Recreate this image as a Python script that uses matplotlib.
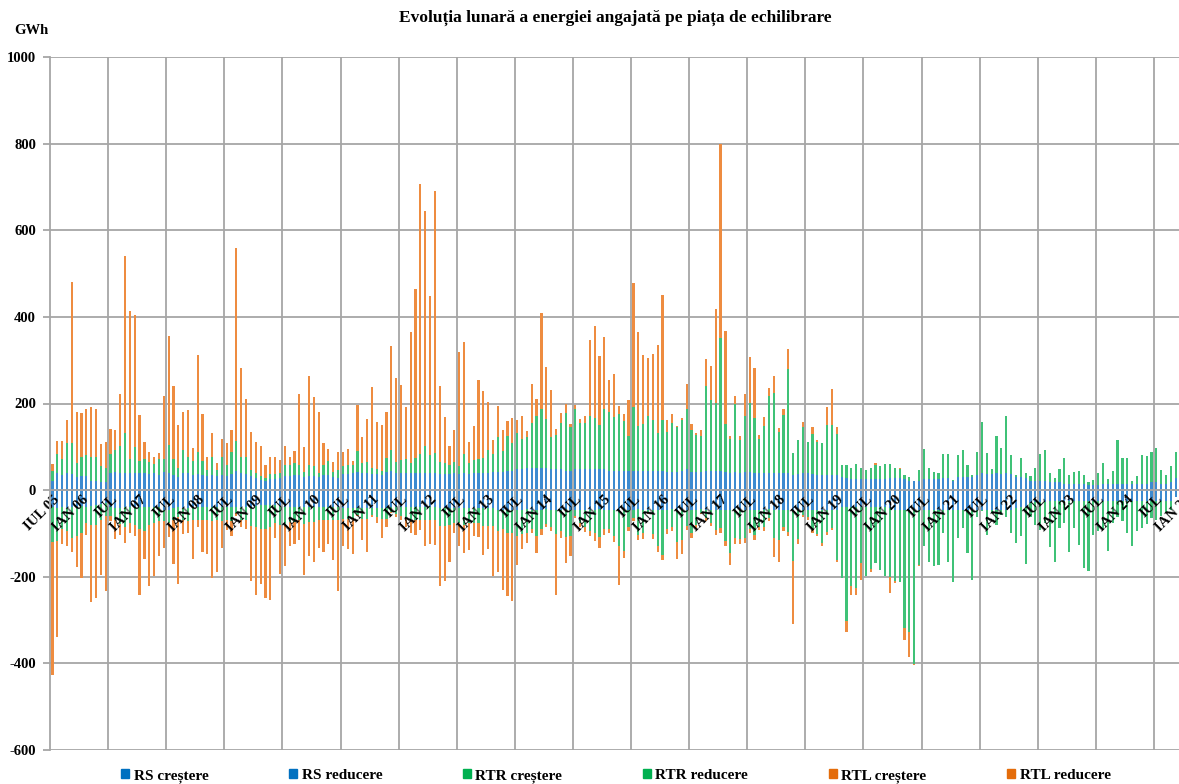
import numpy as np
import matplotlib.pyplot as plt
from matplotlib.patches import Patch

plt.rcParams['font.family'] = ['Liberation Serif', 'DejaVu Serif']
plt.rcParams['font.weight'] = 'bold'
plt.rcParams['axes.unicode_minus'] = False

# monthly values, GWh, Jul 2005 .. Nov 2024 (one row = Jul..Jun)
rs_up = [22, 40, 35, 39, 37, 30, 32, 32, 22, 21, 19, 18,
         39, 43, 40, 39, 39, 39, 39, 39, 37, 39, 35, 43,
         39, 35, 30, 39, 39, 35, 38, 35, 33, 36, 33, 35,
         33, 38, 45, 40, 38, 32, 28, 24, 22, 26, 26, 28,
         33, 33, 34, 34, 30, 33, 33, 30, 34, 36, 30, 28,
         38, 38, 40, 43, 40, 40, 38, 38, 36, 43, 45, 40,
         40, 40, 40, 40, 40, 40, 40, 40, 38, 38, 38, 40,
         38, 40, 38, 40, 39, 40, 40, 42, 42, 42, 45, 45,
         48, 48, 50, 50, 50, 52, 50, 48, 48, 48, 45, 45,
         48, 48, 48, 48, 48, 48, 48, 45, 45, 45, 45, 45,
         45, 45, 45, 45, 45, 45, 45, 42, 42, 42, 45, 48,
         42, 42, 42, 45, 45, 45, 45, 42, 40, 42, 40, 42,
         42, 40, 40, 40, 40, 40, 40, 40, 40, 35, 38, 40,
         40, 38, 36, 36, 36, 36, 36, 30, 28, 26, 26, 26,
         26, 26, 26, 26, 26, 28, 28, 28, 26, 22, 20, 20,
         25, 25, 25, 25, 28, 28, 20, 30, 30, 30, 30, 35,
         40, 38, 38, 40, 38, 40, 38, 30, 30, 28, 22, 22,
         22, 22, 18, 18, 18, 15, 15, 15, 15, 15, 12, 12,
         12, 15, 15, 15, 15, 15, 15, 14, 14, 14, 14, 18,
         18, 15, 15, 18, 28]

rs_dn = [-40, -42, -40, -42, -40, -38, -36, -38, -36, -35, -32, -30,
         -40, -42, -42, -40, -40, -40, -38, -38, -38, -40, -40, -45,
         -45, -42, -40, -42, -42, -40, -40, -40, -38, -40, -38, -40,
         -40, -40, -38, -40, -40, -38, -36, -35, -35, -35, -35, -36,
         -38, -38, -38, -38, -38, -38, -38, -38, -38, -40, -40, -40,
         -42, -42, -42, -42, -42, -42, -42, -42, -42, -42, -40, -40,
         -40, -40, -40, -40, -40, -40, -40, -40, -42, -42, -42, -42,
         -42, -42, -42, -42, -42, -42, -42, -42, -45, -45, -45, -45,
         -45, -46, -44, -45, -47, -45, -44, -45, -46, -45, -44, -45,
         -45, -45, -46, -45, -45, -44, -45, -45, -46, -45, -45, -45,
         -45, -44, -45, -45, -46, -45, -45, -45, -44, -45, -45, -46,
         -45, -45, -44, -45, -45, -46, -45, -45, -45, -44, -45, -45,
         -45, -46, -45, -45, -44, -45, -45, -45, -46, -45, -45, -45,
         -45, -45, -45, -45, -45, -45, -45, -40, -40, -40, -40, -40,
         -40, -40, -40, -40, -40, -42, -45, -45, -45, -45, -45, -45,
         -45, -45, -45, -45, -45, -45, -45, -45, -45, -45, -45, -45,
         -45, -45, -45, -45, -45, -45, -45, -42, -40, -38, -30, -28,
         -28, -28, -25, -25, -25, -25, -25, -25, -25, -25, -25, -25,
         -25, -25, -25, -25, -25, -25, -25, -25, -25, -25, -25, -25,
         -25, -25, -25, -25, -15]

rtr_up = [23, 44, 37, 70, 72, 32, 44, 48, 55, 56, 36, 32,
          45, 49, 63, 94, 34, 60, 29, 33, 28, 22, 37, 29,
          66, 37, 21, 53, 37, 33, 49, 33, 14, 40, 14, 41,
          26, 50, 68, 36, 38, 15, 12, 8, 6, 12, 12, 12,
          26, 26, 29, 25, 13, 24, 22, 10, 25, 32, 13, 19,
          17, 21, 19, 48, 22, 26, 13, 11, 9, 31, 48, 26,
          30, 32, 22, 34, 44, 62, 42, 45, 28, 24, 20, 26,
          17, 44, 24, 30, 33, 34, 53, 42, 80, 49, 79, 63,
          84, 70, 72, 105, 120, 135, 114, 74, 80, 107, 133, 100,
          139, 108, 108, 122, 118, 103, 139, 135, 124, 130, 114, 81,
          147, 103, 107, 126, 117, 86, 116, 92, 113, 104, 117, 140,
          96, 86, 83, 195, 163, 157, 307, 111, 78, 158, 75, 129,
          160, 126, 78, 108, 178, 184, 95, 134, 239, 50, 78, 105,
          72, 92, 76, 72, 115, 115, 93, 28, 30, 25, 34, 25,
          21, 26, 31, 30, 34, 33, 23, 20, 9, 8, 2, 27,
          70, 26, 16, 14, 55, 55, 4, 50, 63, 28, 5, 52,
          118, 47, 11, 84, 59, 132, 44, 5, 45, 11, 10, 29,
          61, 70, 21, 10, 30, 60, 20, 28, 30, 19, 6, 12,
          27, 47, 10, 30, 101, 59, 60, 6, 19, 68, 65, 71,
          79, 32, 20, 38, 59]

rtr_dn = [-80, -75, -50, -53, -70, -67, -64, -37, -44, -45, -38, -30,
          -20, -28, -36, -45, -35, -40, -52, -57, -42, -35, -32, -27,
          -30, -28, -22, -28, -30, -30, -30, -30, -30, -32, -30, -32,
          -30, -32, -15, -30, -30, -45, -50, -55, -55, -50, -40, -45,
          -40, -35, -35, -32, -40, -35, -35, -30, -30, -30, -30, -30,
          -25, -25, -25, -15, -25, -25, -15, -20, -25, -25, -10, -15,
          -20, -25, -28, -28, -28, -30, -30, -30, -40, -40, -38, -35,
          -35, -38, -35, -35, -35, -40, -40, -40, -50, -45, -55, -55,
          -60, -55, -55, -45, -60, -45, -35, -40, -55, -50, -65, -60,
          -15, -30, -40, -50, -55, -65, -45, -45, -60, -84, -95, -40,
          -20, -60, -55, -8, -55, -85, -105, -45, -40, -75, -70, -36,
          -55, -35, -8, -20, -30, -47, -43, -73, -100, -67, -68, -65,
          -44, -58, -40, -40, -20, -65, -71, -40, -50, -118, -68, -12,
          -18, -48, -56, -78, -52, -42, -116, -163, -263, -182, -187, -128,
          -159, -142, -128, -145, -159, -158, -165, -166, -273, -283, -356, -128,
          -85, -120, -130, -127, -54, -120, -168, -66, -43, -100, -163, -16,
          -4, -58, -7, -35, -12, -16, -54, -79, -67, -132, -31, -52,
          -64, -48, -107, -142, -63, -51, -119, -63, -101, -155, -161, -78,
          -70, -65, -115, -51, -37, -47, -73, -105, -70, -63, -53, -40,
          -43, -34, -28, -22, 0]

rtl_up = [16, 29, 41, 53, 372, 119, 101, 107, 114, 110, 52, 60,
          56, 46, 119, 408, 341, 306, 106, 38, 22, 16, 14, 146,
          251, 169, 99, 88, 109, 30, 224, 108, 29, 56, 15, 43,
          50, 50, 447, 206, 134, 88, 70, 71, 31, 38, 38, 29,
          43, 17, 27, 163, 57, 206, 161, 140, 50, 27, 23, 41,
          34, 36, 9, 106, 60, 99, 188, 108, 106, 106, 240, 192,
          172, 120, 303, 391, 623, 543, 366, 606, 175, 106, 44, 73,
          263, 258, 48, 78, 183, 155, 110, 32, 73, 48, 36, 58,
          30, 54, 15, 90, 40, 221, 120, 110, 13, 23, 20, 8,
          10, 8, 16, 177, 213, 159, 166, 74, 98, 20, 16, 82,
          286, 217, 161, 134, 153, 203, 289, 28, 20, 2, 5, 56,
          14, 4, 13, 62, 78, 216, 448, 215, 7, 17, 11, 50,
          106, 116, 10, 20, 17, 40, 8, 14, 46, 0, 0, 13,
          0, 15, 4, 0, 41, 82, 16, 0, 0, 0, 0, 0,
          0, 0, 5, 0, 0, 0, 0, 3, 0, 0, 0, 0,
          0, 0, 0, 0, 0, 0, 0, 0, 0, 0, 0, 0,
          0, 0, 0, 0, 0, 0, 0, 0, 0, 0, 0, 0,
          0, 0, 0, 0, 0, 0, 0, 0, 0, 0, 0, 0,
          0, 0, 0, 0, 0, 0, 0, 0, 0, 0, 0, 0,
          0, 0, 0, 0, 0]

rtl_dn = [-307, -223, -35, -35, -32, -72, -104, -29, -178, -170, -125, -172,
          -12, -43, -26, -37, -25, -25, -151, -64, -141, -123, -80, -62,
          -34, -101, -155, -32, -26, -90, -15, -73, -79, -130, -120, -62,
          -23, -33, -7, -15, -19, -127, -155, -127, -158, -169, -36, -113,
          -98, -57, -51, -44, -118, -78, -94, -66, -75, -55, -91, -162,
          -63, -69, -81, -3, -48, -75, -4, -14, -44, -17, -3, -6,
          -8, -19, -31, -35, -24, -58, -54, -56, -139, -127, -87, -22,
          -53, -65, -61, -30, -31, -67, -53, -117, -93, -140, -145, -157,
          -67, -34, -22, -9, -39, -13, -5, -10, -142, -16, -60, -48,
          -5, -9, -10, -12, -18, -24, -13, -10, -13, -91, -16, -10,
          -7, -11, -12, -2, -12, -13, -12, -12, -10, -40, -33, -10,
          -10, -7, -3, -7, -8, -10, -10, -10, -29, -13, -12, -12,
          -10, -12, -7, -9, -7, -45, -50, -10, -10, -145, -12, -4,
          -5, -6, -6, -5, -6, -5, -5, 0, -25, -20, -15, -40,
          0, -7, 0, 0, 0, -37, -5, 0, -29, -58, -2, -2,
          0, 0, 0, 0, 0, 0, 0, 0, 0, 0, 0, 0,
          0, 0, 0, 0, 0, 0, 0, 0, 0, 0, 0, 0,
          0, 0, 0, 0, 0, 0, 0, 0, 0, 0, 0, 0,
          0, 0, 0, 0, 0, 0, 0, 0, 0, 0, 0, 0,
          0, 0, 0, 0, 0]

tick_labels = ['IUL 05', 'IAN 06', 'IUL', 'IAN 07', 'IUL', 'IAN 08', 'IUL', 'IAN 09',
               'IUL', 'IAN 10', 'IUL', 'IAN 11', 'IUL', 'IAN 12', 'IUL', 'IAN 13',
               'IUL', 'IAN 14', 'IUL', 'IAN 15', 'IUL', 'IAN 16', 'IUL', 'IAN 17',
               'IUL', 'IAN 18', 'IUL', 'IAN 19', 'IUL', 'IAN 20', 'IUL', 'IAN 21',
               'IUL', 'IAN 22', 'IUL', 'IAN 23', 'IUL', 'IAN 24', 'IUL', 'IAN 25']

names = ['RS creștere', 'RS reducere', 'RTR creștere', 'RTR reducere',
         'RTL creștere', 'RTL reducere']

rs_up, rs_dn = np.array(rs_up), np.array(rs_dn)
rtr_up, rtr_dn = np.array(rtr_up), np.array(rtr_dn)
rtl_up, rtl_dn = np.array(rtl_up), np.array(rtl_dn)
x = np.arange(len(rs_up))

c_rs, c_rtr, c_rtl = '#3C8BD0', '#3FC277', '#EE8C40'
grid_col = '#A6A6A6'

fig = plt.figure(figsize=(11.79, 7.84), dpi=100)
# plot area runs past the right edge of the picture (the original is cropped)
ax = fig.add_axes([50 / 1179, 34 / 784, 1162 / 1179, 693 / 784])
ax.set_xlim(-0.5, 239.5)
ax.set_ylim(-600, 1000)

for yv in range(-600, 1001, 200):
    ax.axhline(yv, color=grid_col, lw=1.3, zorder=0)
for xv in np.arange(11.5, 240, 12):
    ax.axvline(xv, color=grid_col, lw=1.3, zorder=0)

w = 0.45
ax.bar(x, rs_up, w, color=c_rs, lw=0, zorder=1)
ax.bar(x, rtr_up, w, bottom=rs_up, color=c_rtr, lw=0, zorder=1)
ax.bar(x, rtl_up, w, bottom=rs_up + rtr_up, color=c_rtl, lw=0, zorder=1)
ax.bar(x, rs_dn, w, color=c_rs, lw=0, zorder=1)
ax.bar(x, rtr_dn, w, bottom=rs_dn, color=c_rtr, lw=0, zorder=1)
ax.bar(x, rtl_dn, w, bottom=rs_dn + rtr_dn, color=c_rtl, lw=0, zorder=1)

for s in ['top', 'right']:
    ax.spines[s].set_visible(False)
ax.spines['left'].set_color(grid_col)
ax.spines['left'].set_linewidth(1.3)
ax.spines['bottom'].set_position(('data', 0))
ax.spines['bottom'].set_color(grid_col)
ax.spines['bottom'].set_linewidth(1.3)

ax.set_yticks(range(-600, 1001, 200))
ax.tick_params(axis='y', length=5, width=1.3, color=grid_col, pad=5, labelsize=10.5)
ax.set_xticks(np.arange(0, 235, 6))
ax.set_xticklabels(tick_labels, rotation=45, ha='right', va='top',
                   rotation_mode='anchor', fontsize=10.5, fontweight='bold')
ax.tick_params(axis='x', length=0, pad=2)

fig.text(615 / 1179, 1 - 18 / 784,
         'Evoluția lunară a energiei angajată pe piața de echilibrare',
         ha='center', va='center', fontsize=12.5, fontweight='bold')
fig.text(14 / 1179, 1 - 30 / 784, 'GWh', ha='left', va='center',
         fontsize=10.5, fontweight='bold')

leg_cols = ['#0070C0', '#0070C0', '#00B050', '#00B050', '#E46C0A', '#E46C0A']
handles = [Patch(color=c) for c in leg_cols]
fig.legend(handles, names, loc='center', bbox_to_anchor=(616 / 1179, 1 - 776 / 784),
           ncol=6, frameon=False, fontsize=11, handlelength=0.5, handleheight=0.5,
           handletextpad=0.3, columnspacing=5.3, borderaxespad=0, borderpad=0)

fig.savefig('out.png', dpi=100)
